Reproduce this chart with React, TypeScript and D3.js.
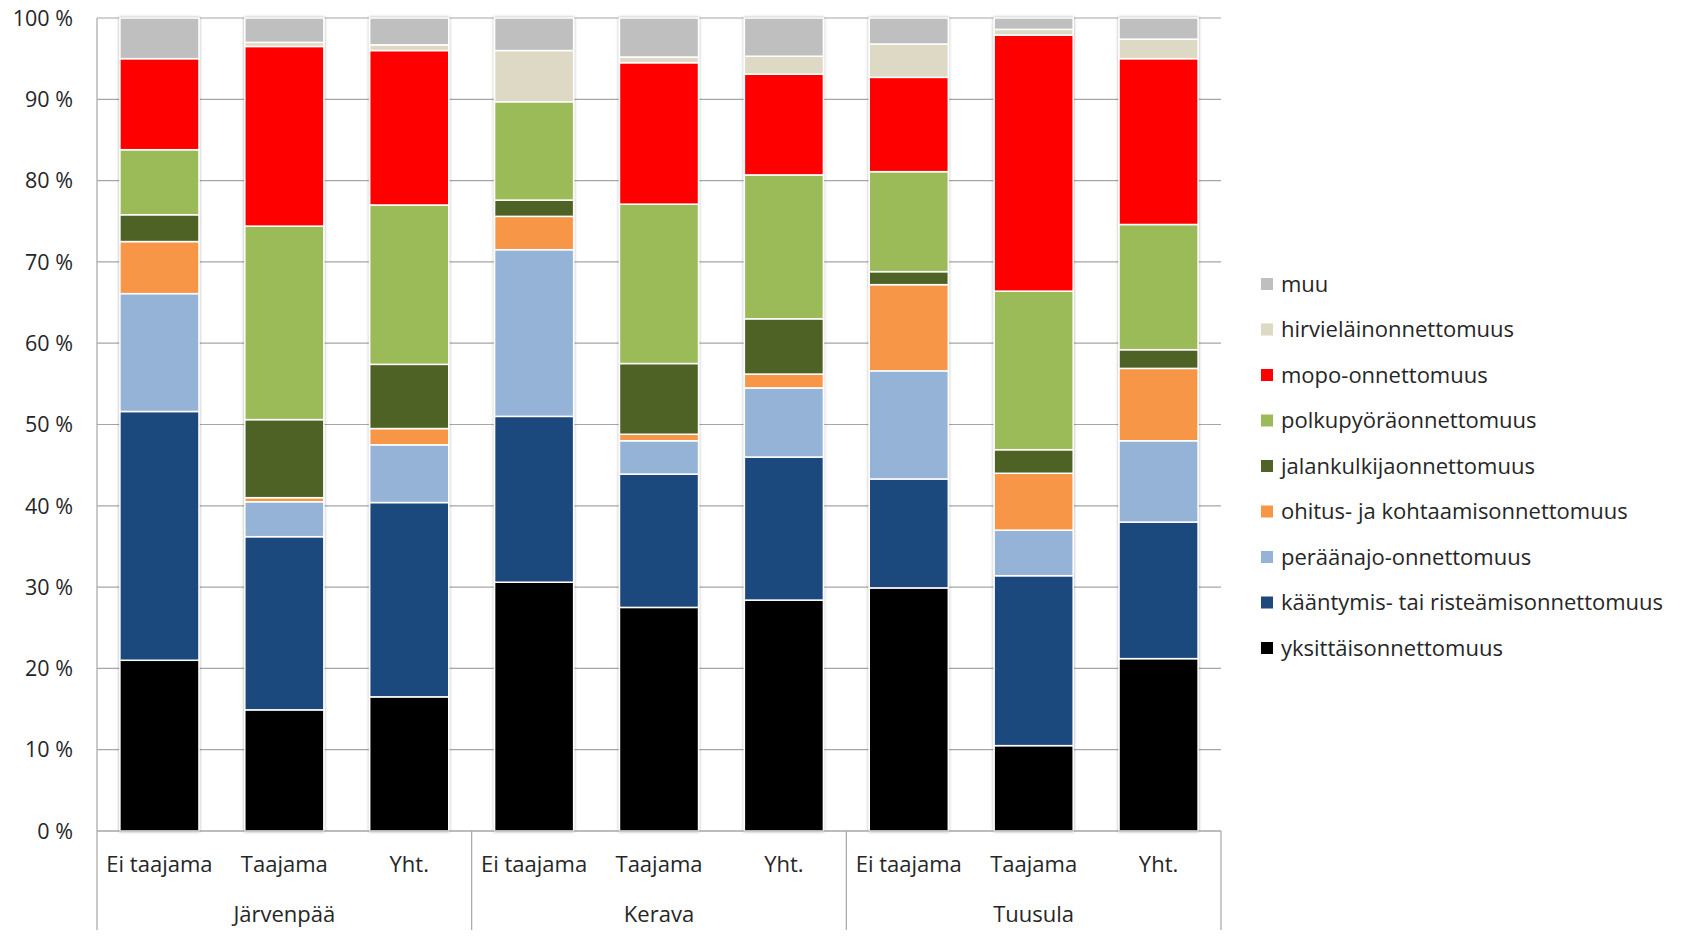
import React from "react";
import * as d3 from "d3";

const groups = ["Järvenpää", "Kerava", "Tuusula"];
const areas = ["Ei taajama", "Taajama", "Yht."];

// series (bottom to top), values in % for the 9 columns
const seriesNames = [
  "yksittäisonnettomuus",
  "kääntymis- tai risteämisonnettomuus",
  "peräänajo-onnettomuus",
  "ohitus- ja kohtaamisonnettomuus",
  "jalankulkijaonnettomuus",
  "polkupyöräonnettomuus",
  "mopo-onnettomuus",
  "hirvieläinonnettomuus",
  "muu",
];
const seriesColors = [
  "#000000",
  "#1F497D",
  "#95B3D7",
  "#F79646",
  "#4F6228",
  "#9BBB59",
  "#FF0000",
  "#DDD9C4",
  "#BFBFBF",
];

const yksittais = [21.0, 14.9, 16.5, 30.6, 27.5, 28.4, 29.9, 10.5, 21.2];
const kaantymis = [30.6, 21.3, 23.9, 20.4, 16.4, 17.6, 13.4, 20.9, 16.8];
const peraanajo = [14.5, 4.3, 7.1, 20.5, 4.1, 8.5, 13.3, 5.6, 10.0];
const ohitus = [6.4, 0.5, 2.0, 4.1, 0.8, 1.7, 10.6, 7.0, 8.9];
const jalankulkija = [3.3, 9.6, 7.9, 2.0, 8.7, 6.8, 1.6, 2.9, 2.3];
const polkupyora = [8.0, 23.8, 19.6, 12.1, 19.6, 17.7, 12.3, 19.5, 15.4];
const mopo = [11.2, 22.1, 19.0, 0, 17.4, 12.4, 11.6, 31.5, 20.4];
const hirvielain = [0, 0.5, 0.7, 6.3, 0.7, 2.2, 4.1, 0.7, 2.4];
const muu = [5.0, 3.0, 3.3, 4.0, 4.8, 4.7, 3.2, 1.4, 2.6];

const seriesValues = [
  yksittais,
  kaantymis,
  peraanajo,
  ohitus,
  jalankulkija,
  polkupyora,
  mopo,
  hirvielain,
  muu,
];

const yTicks = [0, 10, 20, 30, 40, 50, 60, 70, 80, 90, 100];

const FONT = "'Open Sans', sans-serif";
const TEXT = "#262626";

export default function App() {
  const W = 1682;
  const H = 936;
  const left = 97;
  const right = 1221;
  const top = 18;
  const bottom = 831;
  const catBottom = 930;

  const columns: { key: string; group: string; area: string }[] = [];
  groups.forEach((g) => areas.forEach((a) => columns.push({ key: g + "|" + a, group: g, area: a })));

  const rows = columns.map((c, i) => {
    const r: any = { key: c.key };
    seriesNames.forEach((s, j) => (r[s] = seriesValues[j][i]));
    return r;
  });

  const stack = d3.stack<any>().keys(seriesNames).offset(d3.stackOffsetExpand);
  const stacked = stack(rows);

  const x = d3
    .scaleBand<string>()
    .domain(columns.map((c) => c.key))
    .range([left, right])
    .paddingInner(0.367)
    .paddingOuter(0.1835);
  const xg = d3.scaleBand<string>().domain(groups).range([left, right]).padding(0);
  const y = d3.scaleLinear().domain([0, 1]).range([bottom, top]);
  const yPct = d3.scaleLinear().domain([0, 100]).range([bottom, top]);

  const legendX = 1261;
  const legendY0 = 284;
  const legendStep = 45.5;
  const legendOrder = seriesNames.map((_, i) => i).reverse();

  return (
    <svg
      width={W}
      height={H}
      style={{ position: "absolute", left: 0, top: 0, display: "block", background: "#fff" }}
    >
      <defs>
        <filter id="shadow" x="-20%" y="-5%" width="140%" height="110%">
          <feDropShadow dx="0" dy="0" stdDeviation="1.6" floodColor="#000" floodOpacity="0.35" />
        </filter>
      </defs>
      <rect x={0} y={0} width={W} height={H} fill="#fff" />

      {/* gridlines */}
      {yTicks.map((t) => (
        <line
          key={"g" + t}
          x1={left}
          x2={right}
          y1={yPct(t)}
          y2={yPct(t)}
          stroke="#A6A6A6"
          strokeWidth={1.2}
        />
      ))}

      {/* bars */}
      {columns.map((c, i) => (
        <g key={c.key} filter="url(#shadow)">
          {stacked.map((layer, j) => {
            const d = layer[i];
            const h = y(d[0]) - y(d[1]);
            if (h <= 0) return null;
            return (
              <rect
                key={j}
                x={x(c.key)}
                y={y(d[1])}
                width={x.bandwidth()}
                height={h}
                fill={seriesColors[j]}
                stroke="#fff"
                strokeWidth={1.5}
              />
            );
          })}
        </g>
      ))}

      {/* axes lines */}
      <line x1={left} x2={left} y1={top} y2={catBottom} stroke="#A6A6A6" strokeWidth={1.2} />
      <line x1={left} x2={right} y1={bottom} y2={bottom} stroke="#A6A6A6" strokeWidth={1.2} />
      {groups.map((g) => (
        <line
          key={"sep" + g}
          x1={(xg(g) as number) + xg.bandwidth()}
          x2={(xg(g) as number) + xg.bandwidth()}
          y1={bottom}
          y2={catBottom}
          stroke="#A6A6A6"
          strokeWidth={1.2}
        />
      ))}

      {/* y tick labels */}
      {yTicks.map((t) => (
        <text
          key={"t" + t}
          x={73}
          y={yPct(t)}
          dy="0.36em"
          textAnchor="end"
          fontFamily={FONT}
          fontSize={21.5}
          fill={TEXT}
        >
          {t + " %"}
        </text>
      ))}

      {/* category labels */}
      {columns.map((c) => (
        <text
          key={"c" + c.key}
          x={(x(c.key) as number) + x.bandwidth() / 2}
          y={872}
          textAnchor="middle"
          fontFamily={FONT}
          fontSize={22}
          fill={TEXT}
        >
          {c.area}
        </text>
      ))}
      {groups.map((g) => (
        <text
          key={"gl" + g}
          x={(xg(g) as number) + xg.bandwidth() / 2}
          y={922}
          textAnchor="middle"
          fontFamily={FONT}
          fontSize={22}
          fill={TEXT}
        >
          {g}
        </text>
      ))}

      {/* legend */}
      {legendOrder.map((si, k) => (
        <g key={"l" + si} transform={`translate(${legendX},${legendY0 + k * legendStep})`}>
          <rect x={0} y={-6} width={12} height={12} fill={seriesColors[si]} />
          <text x={20} y={0} dy="0.36em" fontFamily={FONT} fontSize={22} fill={TEXT}>
            {seriesNames[si]}
          </text>
        </g>
      ))}
    </svg>
  );
}
